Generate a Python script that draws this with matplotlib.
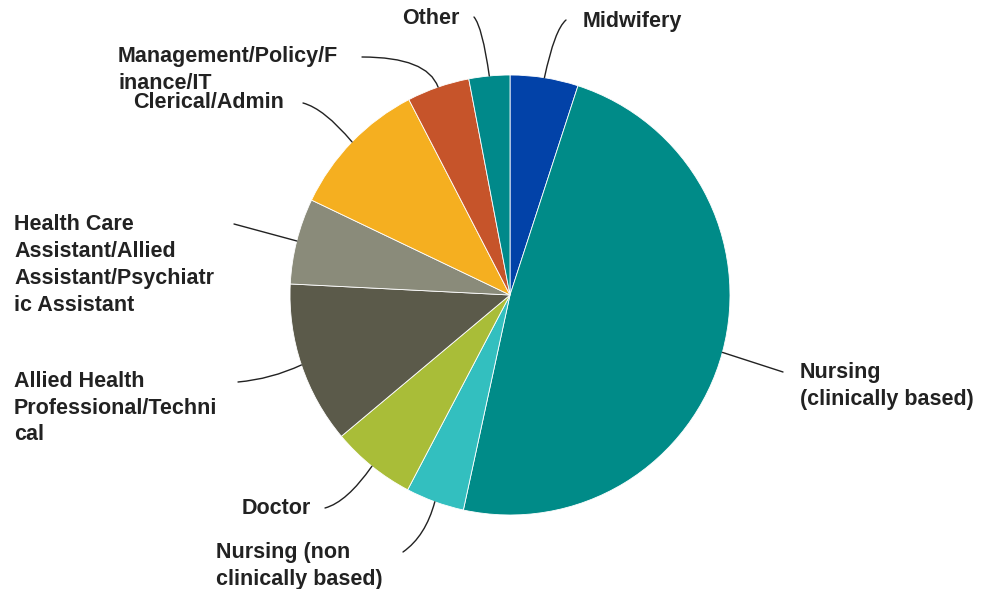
import numpy as np
import matplotlib.pyplot as plt

plt.rcParams['font.family'] = ['Liberation Sans', 'DejaVu Sans']

# staff categories, clockwise from 12 o'clock (percent of total)
categories = ['Midwifery', 'Nursing\n(clinically based)', 'Nursing (non\nclinically based)',
              'Doctor', 'Allied Health\nProfessional/Techni\ncal',
              'Health Care\nAssistant/Allied\nAssistant/Psychiatr\nic Assistant',
              'Clerical/Admin', 'Management/Policy/F\ninance/IT', 'Other']
shares = [5.0, 48.4, 4.3, 6.2, 11.9, 6.3, 10.3, 4.6, 3.0]
colors = ['#0242A8', '#008B88', '#33BFBF', '#A9BD38', '#5B5A4A',
          '#8A8B7A', '#F5AF20', '#C6542A', '#00898A']

# label layout in pixel coords (y from top): text x, text y, line end x, line end y,
# tangent angles at line end / pie edge (None = straight line)
label_pos = [
    (583, 22, 566, 20, (40, 78)),
    (800, 386, 783, 372, None),
    (216, 566, 403, 552, (35, 75)),
    (242, 509, 325, 508, (15, 55)),
    (14, 408, 238, 382, (5, 25)),
    (14, 265, 234, 224, None),
    (133, 103, 303, 103, (-15, -50)),
    (118, 70, 362, 57, (0, -70)),
    (402, 18, 474, 17, (130, 98)),
]

W, H = 985, 589
cx, cy, r = 510, 295, 220

fig = plt.figure(figsize=(W / 100, H / 100), dpi=100)
ax = fig.add_axes([0, 0, 1, 1])

wedges, _ = ax.pie(shares, colors=colors, startangle=90, counterclock=False,
                   center=(cx, H - cy), radius=r, frame=True,
                   wedgeprops=dict(edgecolor='white', linewidth=0.6))
ax.set_xlim(0, W)
ax.set_ylim(0, H)
ax.set_aspect('equal')
ax.axis('off')

for w, name, (tx, ty, lx, ly, angles) in zip(wedges, categories, label_pos):
    mid = np.deg2rad((w.theta1 + w.theta2) / 2)
    px = cx + r * np.cos(mid)
    py = (H - cy) + r * np.sin(mid)
    if angles is None:
        conn = 'arc3,rad=0'
    else:
        conn = f'angle3,angleA={angles[0]},angleB={angles[1]}'
    ax.annotate('', xy=(px, py), xytext=(lx, H - ly),
                arrowprops=dict(arrowstyle='-', color='#222222', lw=1.0,
                                connectionstyle=conn, shrinkA=0, shrinkB=0))
    ax.text(tx, H - ty, name, ha='left', va='center', fontsize=15.5, fontweight='bold',
            color='#222222', linespacing=1.36)

fig.savefig('out.png', dpi=100, facecolor='white')
